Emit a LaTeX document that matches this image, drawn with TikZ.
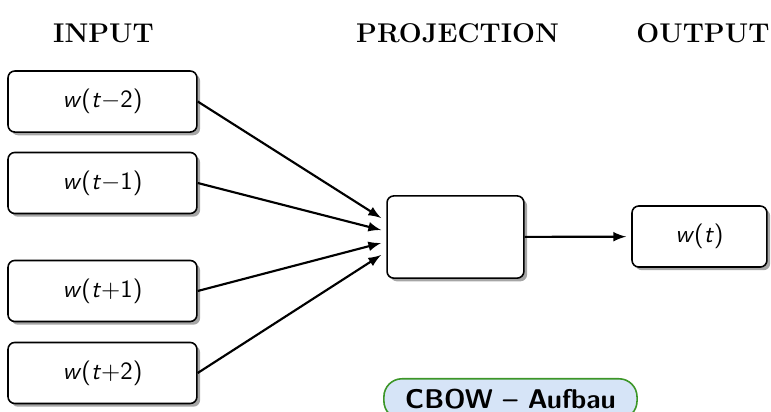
\documentclass[tikz,border=0pt,11pt]{standalone}
\usetikzlibrary{shapes.geometric, arrows, shadows}
\definecolor{labelfill}{RGB}{214,228,247}
\definecolor{labeldraw}{RGB}{60,150,40}
\tikzset{
  block/.style={
    rectangle,
    draw=black,
    line width=0.7pt,
    rounded corners=3pt,
    fill=white,
    drop shadow={shadow xshift=0.05cm, shadow yshift=-0.05cm, fill=black!35, opacity=1},
    font=\sffamily
  },
  word/.style={block, minimum width=2.94cm, minimum height=0.95cm},
  head/.style={font=\large\bfseries}
}
\tikzstyle{arrow} = [->, > = latex, line width=0.95pt]
\def\wt#1{\textit{w}(\textit{t}#1)}

\begin{document}
\begin{tikzpicture}
    \useasboundingbox (0, 0) rectangle (12, -6.412);
    \node[head] (hin) at (1.611, -0.514) {INPUT};
    \node[head] (hproj) at (7.121, -0.514) {PROJECTION};
    \node[head] (hout) at (10.941, -0.514) {OUTPUT};
    \node[word] (in1) at (1.595, -1.580) {\wt{$-$2}};
    \node[word] (in2) at (1.595, -2.848) {\wt{$-$1}};
    \node[word] (in3) at (1.595, -4.529) {\wt{$+$1}};
    \node[word] (in4) at (1.595, -5.805) {\wt{$+$2}};
    \node[block, minimum width=2.13cm, minimum height=1.28cm] (proj) at (7.089, -3.689) {};
    \node[word, minimum width=2.10cm] (out) at (10.887, -3.681) {\textit{w}(\textit{t})};
    \draw[arrow] (in1.east) to ([xshift=-0.08cm, yshift=0.296cm]proj.west);
    \draw[arrow] (in2.east) to ([xshift=-0.08cm, yshift=0.109cm]proj.west);
    \draw[arrow] (in3.east) to ([xshift=-0.08cm, yshift=-0.093cm]proj.west);
    \draw[arrow] (in4.east) to ([xshift=-0.08cm, yshift=-0.28cm]proj.west);
    \draw[arrow, shorten >=0.08cm] (proj) to (out);
    \node[rectangle, draw=labeldraw, fill=labelfill, line width=0.7pt, rounded corners=8pt, anchor=north,
      minimum width=3.94cm, inner ysep=4.5pt, font=\large\bfseries\sffamily] (title) at (7.945, -5.883) {CBOW -- Aufbau};
  \end{tikzpicture}
\end{document}
